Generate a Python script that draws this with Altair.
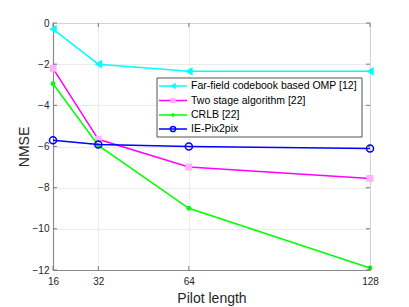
import altair as alt
import pandas as pd

pilot = [16, 32, 64, 128]
yticks = [-12, -10, -8, -6, -4, -2, 0]
series = ["Far-field codebook based OMP [12]", "Two stage algorithm [22]", "CRLB [22]", "IE-Pix2pix"]
omp = [-0.3, -2.0, -2.35, -2.35]
two_stage = [-2.2, -5.65, -7.0, -7.55]
crlb = [-2.95, -5.95, -9.0, -11.9]
pix = [-5.7, -5.9, -6.0, -6.1]
values = [omp, two_stage, crlb, pix]

colors = ["#00FFFF", "#FF00FF", "#00FF00", "#0000FF"]
shapes = ["triangle-left", "square", "circle", "circle"]
fills = ["#00FFFF", "#FFB0FF", "#00FF00", "none"]
sizes = [75, 48, 24, 50]

FONT = "Liberation Sans"
W, H = 317, 247

xscale = alt.Scale(domain=[16, 128], nice=False, zero=False)
yscale = alt.Scale(domain=[-12, 0], nice=False)

layers = []
for name, vals, c, s, f, sz in zip(series, values, colors, shapes, fills, sizes):
    df = pd.DataFrame({"Pilot": pilot, "NMSE": vals, "Series": name})
    base = alt.Chart(df).encode(
        x=alt.X("Pilot:Q", scale=xscale,
                axis=alt.Axis(values=pilot, title="Pilot length")),
        y=alt.Y("NMSE:Q", scale=yscale,
                axis=alt.Axis(values=yticks, title="NMSE")),
    )
    layers.append(base.mark_line(color=c, strokeWidth=1.5))
    layers.append(base.mark_point(shape=s, color=c, fill=f, filled=(f != "none"),
                                  size=sz, strokeWidth=1.5, opacity=1))

# inward ticks (MATLAB box style)
xt = pd.DataFrame({"Pilot": pilot})
yt = pd.DataFrame({"NMSE": yticks})
tick_style = dict(color="#777777", strokeWidth=1)
layers.append(alt.Chart(xt).mark_rule(**tick_style).encode(
    x=alt.X("Pilot:Q", scale=xscale), y=alt.value(H), y2=alt.value(H - 4)))
layers.append(alt.Chart(xt).mark_rule(**tick_style).encode(
    x=alt.X("Pilot:Q", scale=xscale), y=alt.value(0), y2=alt.value(4)))
layers.append(alt.Chart(yt).mark_rule(**tick_style).encode(
    y=alt.Y("NMSE:Q", scale=yscale), x=alt.value(0), x2=alt.value(4)))
layers.append(alt.Chart(yt).mark_rule(**tick_style).encode(
    y=alt.Y("NMSE:Q", scale=yscale), x=alt.value(W), x2=alt.value(W - 4)))

# custom legend (MATLAB style box)
one = pd.DataFrame({"a": [0]})
leg_left, leg_right, leg_top, leg_bottom = 104, 309, 55, 114
layers.append(alt.Chart(one).mark_rect(fill="white", stroke="#262626", strokeWidth=0.8).encode(
    x=alt.value(leg_left), x2=alt.value(leg_right),
    y=alt.value(leg_top), y2=alt.value(leg_bottom)))
row_y = [63, 77.5, 92, 106]
for name, c, s, f, sz, yy in zip(series, colors, shapes, fills, sizes, row_y):
    layers.append(alt.Chart(one).mark_rule(color=c, strokeWidth=1.5).encode(
        x=alt.value(106), x2=alt.value(134), y=alt.value(yy)))
    layers.append(alt.Chart(one).mark_point(shape=s, color=c, fill=f, filled=(f != "none"),
                                            size=sz * 0.55, strokeWidth=1.5, opacity=1).encode(
        x=alt.value(120), y=alt.value(yy)))
    layers.append(alt.Chart(one).mark_text(text=name, align="left", baseline="middle",
                                           font=FONT, fontSize=10.5, color="#000000").encode(
        x=alt.value(138), y=alt.value(yy)))

chart = alt.layer(*layers).properties(
    width=W, height=H,
    autosize=alt.AutoSizeParams(type="none"),
    padding={"left": 45, "top": 15, "right": 30, "bottom": 36},
).configure_view(
    stroke="#8a8a8a", strokeWidth=1
).configure_axis(
    labelFont=FONT, titleFont=FONT, labelFontSize=10, labelColor="#262626",
    titleColor="#262626", titleFontWeight="normal",
    domainColor="#8a8a8a", domainWidth=1.2,
    gridColor="#e6e6e6", gridWidth=0.8,
    ticks=False, labelFlush=False,
).configure_axisY(
    labelPadding=4, titleFontSize=14, titlePadding=1
).configure_axisX(
    labelPadding=6, titleFontSize=14, titlePadding=5
)

chart.save("out.html", embed_options={"renderer": "svg", "actions": False})
